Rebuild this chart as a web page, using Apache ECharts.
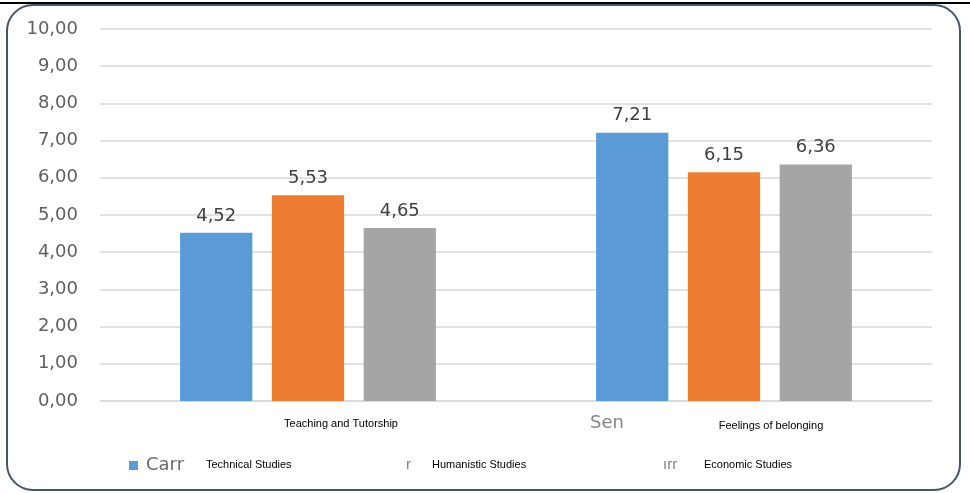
<!DOCTYPE html>
<html><head><meta charset="utf-8">
<script src="https://cdn.jsdelivr.net/npm/echarts@6/dist/echarts.min.js"></script>
<style>html,body{margin:0;padding:0;background:#fff;}#c{width:970px;height:493px;}</style>
</head><body><div id="c"></div>
<script>
var categories = ['Teaching and Tutorship', 'Feelings of belonging'];
var seriesNames = ['Technical Studies', 'Humanistic Studies', 'Economic Studies'];
var technical = [4.52, 7.21];
var humanistic = [5.53, 6.15];
var economic = [4.65, 6.36];
var colors = ['#5B9BD5', '#ED7D31', '#A5A5A5'];
var yMin = 0, yMax = 10, yStep = 1;

function fmt(v){ return v.toFixed(2).replace('.', ','); }

var chart = echarts.init(document.getElementById('c'));
var font = 'Liberation Sans, Arial, sans-serif';
var wide = 'DejaVu Sans, Verdana, sans-serif';
function mk(name, data, color){
  return {
    name: name, type: 'bar', data: data,
    barGap: '27%', barCategoryGap: '38.5%',
    itemStyle: {color: color},
    label: {show: true, position: 'top', distance: 8, color: '#404040', fontSize: 18, fontFamily: wide,
      formatter: function(p){ return fmt(p.value); }}
  };
}
chart.setOption({
  animation: false,
  grid: {left: 100, right: 38, top: 29, bottom: 92},
  xAxis: {
    type: 'category', data: categories,
    axisLine: {show: true, lineStyle: {color: '#D9D9D9', width: 1.5}},
    axisTick: {show: false},
    axisLabel: {
      margin: 17,
      formatter: function(v, i){ return i === 0 ? '{a|' + v + '}' : '{b|' + v + '}'; },
      rich: {
        a: {fontSize: 11, color: '#000', fontFamily: font, padding: [0, 0, 0, 66]},
        b: {fontSize: 11, color: '#000', fontFamily: font, padding: [2, 0, 0, 94]}
      }
    }
  },
  yAxis: {
    type: 'value', min: yMin, max: yMax, interval: yStep,
    axisLine: {show: false}, axisTick: {show: false},
    splitLine: {lineStyle: {color: '#D9D9D9', width: 1.5}},
    axisLabel: {margin: 22, color: '#606060', fontSize: 18, fontFamily: wide,
      formatter: function(v){ return fmt(v); }}
  },
  series: [mk(seriesNames[0], technical, colors[0]), mk(seriesNames[1], humanistic, colors[1]), mk(seriesNames[2], economic, colors[2])],
  graphic: [
    {type: 'rect', shape: {x: 7, y: 5, width: 953, height: 485, r: 26}, style: {fill: 'none', stroke: '#44546A', lineWidth: 2}, z: 10},
    {type: 'line', shape: {x1: 0, y1: 3, x2: 970, y2: 3}, style: {stroke: '#000', lineWidth: 2}, z: 11},
    {type: 'text', left: 590, top: 414, style: {text: 'Sen', fontSize: 18, fill: '#858585', fontFamily: wide}},
    {type: 'rect', shape: {x: 129, y: 461, width: 9, height: 9}, style: {fill: colors[0]}},
    {type: 'text', left: 146, top: 456, style: {text: 'Carr', fontSize: 18, fill: '#6a6a6a', fontFamily: wide}},
    {type: 'text', left: 206, top: 459, style: {text: seriesNames[0], fontSize: 11, fill: '#000', fontFamily: font}},
    {type: 'text', left: 406, top: 457, style: {text: 'r', fontSize: 15, fill: '#7f7f7f', fontFamily: font}},
    {type: 'text', left: 432, top: 459, style: {text: seriesNames[1], fontSize: 11, fill: '#000', fontFamily: font}},
    {type: 'text', left: 663, top: 457, style: {text: 'ırr', fontSize: 15, fill: '#7f7f7f', fontFamily: font}},
    {type: 'text', left: 704, top: 459, style: {text: seriesNames[2], fontSize: 11, fill: '#000', fontFamily: font}}
  ]
});
</script></body></html>
